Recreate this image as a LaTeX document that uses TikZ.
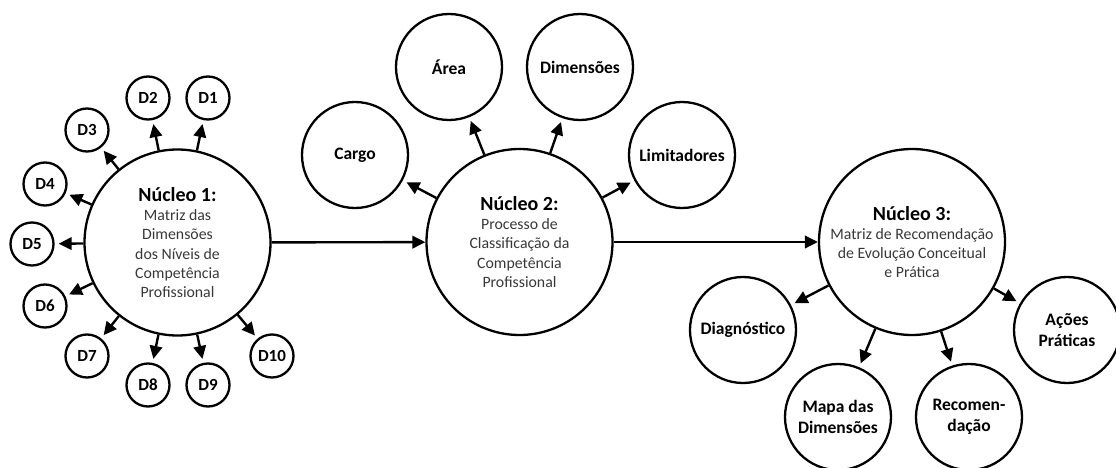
\documentclass[tikz,border=0pt]{standalone}
\usepackage{fontspec}
\setmainfont{Carlito}
\usetikzlibrary{arrows.meta}
\definecolor{subgray}{HTML}{383838}
\tikzset{
  hub/.style={circle, draw, line width=2.3pt, minimum size=186pt, inner sep=0pt,
    align=center, text=subgray, font=\fontsize{15.8}{19.2}\selectfont},
  sat/.style={circle, draw, line width=2.3pt, minimum size=106pt, inner sep=0pt,
    align=center, font=\fontsize{17.5}{21.5}\selectfont\bfseries},
  dimc/.style={circle, draw, line width=2.3pt, minimum size=43pt, inner sep=0pt,
    font=\fontsize{17}{17}\selectfont\bfseries},
  arr/.style={line width=2.4pt, -{Triangle[length=13pt,width=12.5pt]}},
  spoke/.style={arr, shorten >=4pt},
}
\newcommand\hubtitle[1]{{\fontsize{20}{20}\selectfont\bfseries\color{black}#1}}
\begin{document}
\begin{tikzpicture}[x=1pt, y=-1pt]
  \useasboundingbox (0,0) rectangle (1116,468);

  % core 1 and its ten dimensions
  \node[hub] (n1) at (177.5,242.5) {\hubtitle{Núcleo 1:}\\Matriz das\\Dimensões\\dos Níveis de\\Competência\\Profissional};
  \node[dimc] (d1)  at (208,98)  {D1};
  \node[dimc] (d2)  at (148,98)  {D2};
  \node[dimc] (d3)  at (87,130)  {D3};
  \node[dimc] (d4)  at (45,184)  {D4};
  \node[dimc] (d5)  at (32,244)  {D5};
  \node[dimc] (d6)  at (45,306)  {D6};
  \node[dimc] (d7)  at (87,356)  {D7};
  \node[dimc] (d8)  at (148,385) {D8};
  \node[dimc] (d9)  at (208,385) {D9};
  \node[dimc] (d10) at (272,356) {D10};
  \foreach \d in {d1,d2,d3,d4,d5,d6,d7,d8,d9,d10}
    \draw[spoke] (n1) -- (\d);

  % core 2
  \node[hub] (n2) at (519.5,242) {\hubtitle{Núcleo 2:}\\Processo de\\Classificação da\\Competência\\Profissional};
  \node[sat] (cargo) at (355,155) {Cargo};
  \node[sat] (area)  at (449,67)  {Área};
  \node[sat] (dims)  at (580,67)  {Dimensões};
  \node[sat] (lim)   at (682,155) {Limitadores};
  \foreach \s in {cargo,area,dims,lim}
    \draw[spoke] (n2) -- (\s);

  % core 3
  \node[hub] (n3) at (912,242) {\hubtitle{Núcleo 3:}\\Matriz de Recomendação\\de Evolução Conceitual\\e Prática};
  \node[sat] (diag)  at (743,330)  {Diagnóstico};
  \node[sat] (mapa)  at (838,417)  {Mapa das\\Dimensões};
  \node[sat] (recom) at (969,417)  {Recomen-\\dação};
  \node[sat] (acoes) at (1067,330) {Ações\\Práticas};
  \foreach \s in {diag,mapa,recom,acoes}
    \draw[spoke] (n3) -- (\s);

  % main flow
  \draw[arr] (n1) -- (n2);
  \draw[arr] (n2) -- (n3);
\end{tikzpicture}
\end{document}
